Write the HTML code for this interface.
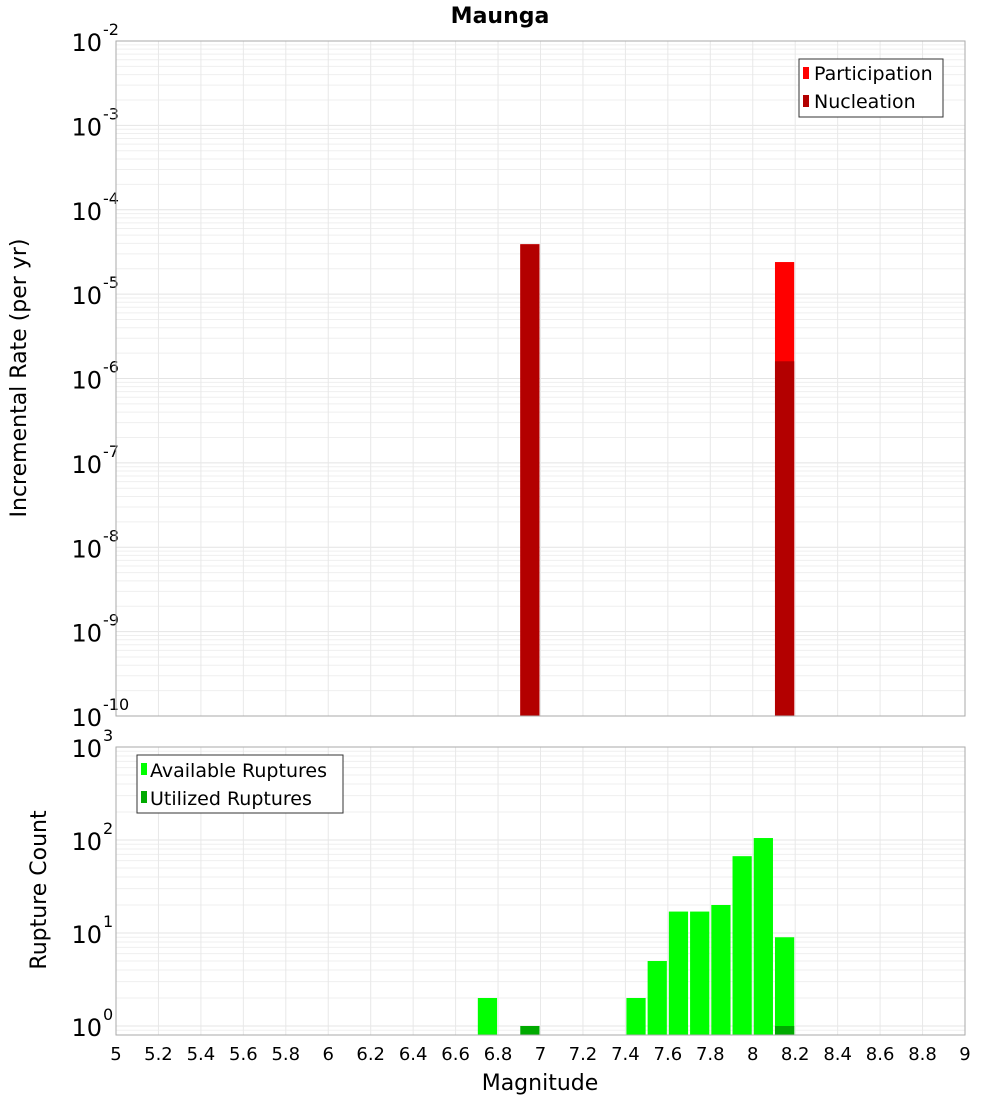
<!DOCTYPE html>
<html><head><meta charset="utf-8"><style>
body{margin:0;background:#fff;font-family:"Liberation Sans","DejaVu Sans",sans-serif}
</style></head><body>
<svg id="chart" width="1000" height="1100" xmlns="http://www.w3.org/2000/svg" font-family="DejaVu Sans, Liberation Sans, sans-serif">
<text x="500" y="23" text-anchor="middle" font-size="22" font-weight="bold">Maunga</text>
<g id="topG"></g><g id="botG"></g>
<text transform="translate(26,378) rotate(-90)" text-anchor="middle" font-size="22">Incremental Rate (per yr)</text>
<text transform="translate(46,890) rotate(-90)" text-anchor="middle" font-size="22">Rupture Count</text>
<text x="540" y="1090" text-anchor="middle" font-size="22">Magnitude</text>
<g>
<rect x="799" y="59" width="144" height="58" fill="#fff" stroke="#333"/>
<rect x="803" y="67" width="6" height="12" fill="#ff0000"/><text x="814" y="80" font-size="19">Participation</text>
<rect x="803" y="95" width="6" height="12" fill="#b30000"/><text x="814" y="108" font-size="19">Nucleation</text>
</g>
<g id="legend2">
<rect x="137" y="755" width="206" height="58" fill="#fff" stroke="#333"/>
<rect x="141" y="763" width="6" height="12" fill="#00ff00"/><text x="150" y="777" font-size="19">Available Ruptures</text>
<rect x="141" y="791" width="6" height="12" fill="#00aa00"/><text x="150" y="805" font-size="19">Utilized Ruptures</text>
</g>
</svg>
<script>
const rateMags=[6.95,8.15];
const participation=[3.9e-5,2.4e-5];
const nucleation=[3.9e-5,1.6e-6];
const countMags=[6.75,6.95,7.45,7.55,7.65,7.75,7.85,7.95,8.05,8.15];
const available=[2,0,2,5,17,17,20,67,105,9];
const utilized=[0,1,0,0,0,0,0,0,0,1];
const xTicks=["5","5.2","5.4","5.6","5.8","6","6.2","6.4","6.6","6.8","7","7.2","7.4","7.6","7.8","8","8.2","8.4","8.6","8.8","9"];
const topExps=[-2,-3,-4,-5,-6,-7,-8,-9,-10];
const botExps=[3,2,1,0];
const NS="http://www.w3.org/2000/svg";
const X0=116,X1=965;
const xs=m=>X0+(m-5)/4*(X1-X0);
const yTop=v=>41+(-2-Math.log10(v))*84.375;
const yBot=v=>1026-Math.log10(v)*93;
function el(p,t,a){const e=document.createElementNS(NS,t);for(const k in a)e.setAttribute(k,a[k]);p.appendChild(e);return e;}
function panel(g,y0,y1,yf,lo,hi,exps,name){
  el(g,'rect',{x:X0,y:y0,width:X1-X0,height:y1-y0,fill:'#fff'});
  for(let d=lo;d<hi;d++)for(let k=1;k<10;k++){const y=yf(k*Math.pow(10,d));if(y<y0||y>y1)continue;
    const l=el(g,'line',{x1:X0,x2:X1,y1:y,y2:y,stroke:k==1?'#e4e4e4':'#efefef','stroke-width':1});
    
    }
  xTicks.forEach(t=>{const x=xs(+t);const l=el(g,'line',{x1:x,x2:x,y1:y0,y2:y1,stroke:'#e8e8e8'});
    
    });
  exps.forEach(e=>{const y=yf(Math.pow(10,e));const t=el(g,'text',{x:102,y:y+10,'text-anchor':'end','font-size':24});t.textContent='10';
    
    
    const s=el(g,'text',{x:103,y:y-6,'font-size':16});s.textContent=String(e);
    
    });
}
const topG=document.getElementById('topG'),botG=document.getElementById('botG');
panel(topG,41,716,yTop,-10,-2,topExps,'rate');
rateMags.forEach((m,i)=>{const x=xs(m-0.05)+1,w=xs(m+0.05)-xs(m-0.05)-2;
  const y=yTop(participation[i]);const r=el(topG,'rect',{x,y,width:w,height:716-y,fill:'#ff0000'});
  
  
  const yn=yTop(nucleation[i]);const r2=el(topG,'rect',{x,y:yn,width:w,height:716-yn,fill:'#b30000'});
  
  });
el(topG,'rect',{x:X0,y:41,width:X1-X0,height:675,fill:'none',stroke:'#aaa'});
panel(botG,747,1035,yBot,-1,3,botExps,'count');
countMags.forEach((m,i)=>{const x=xs(m-0.05)+1,w=xs(m+0.05)-xs(m-0.05)-2;
  if(available[i]>0){const y=yBot(available[i]);const r=el(botG,'rect',{x,y,width:w,height:1035-y,fill:'#00ff00'});
  
  }
  if(utilized[i]>0){const y=yBot(utilized[i]);const r=el(botG,'rect',{x,y,width:w,height:1035-y,fill:'#00aa00'});
  
  }});
el(botG,'rect',{x:X0,y:747,width:X1-X0,height:288,fill:'none',stroke:'#aaa'});
xTicks.forEach(t=>{const tx=el(botG,'text',{x:xs(+t),y:1060,'text-anchor':'middle','font-size':18});tx.textContent=t;
  
  });
</script>
</body></html>
